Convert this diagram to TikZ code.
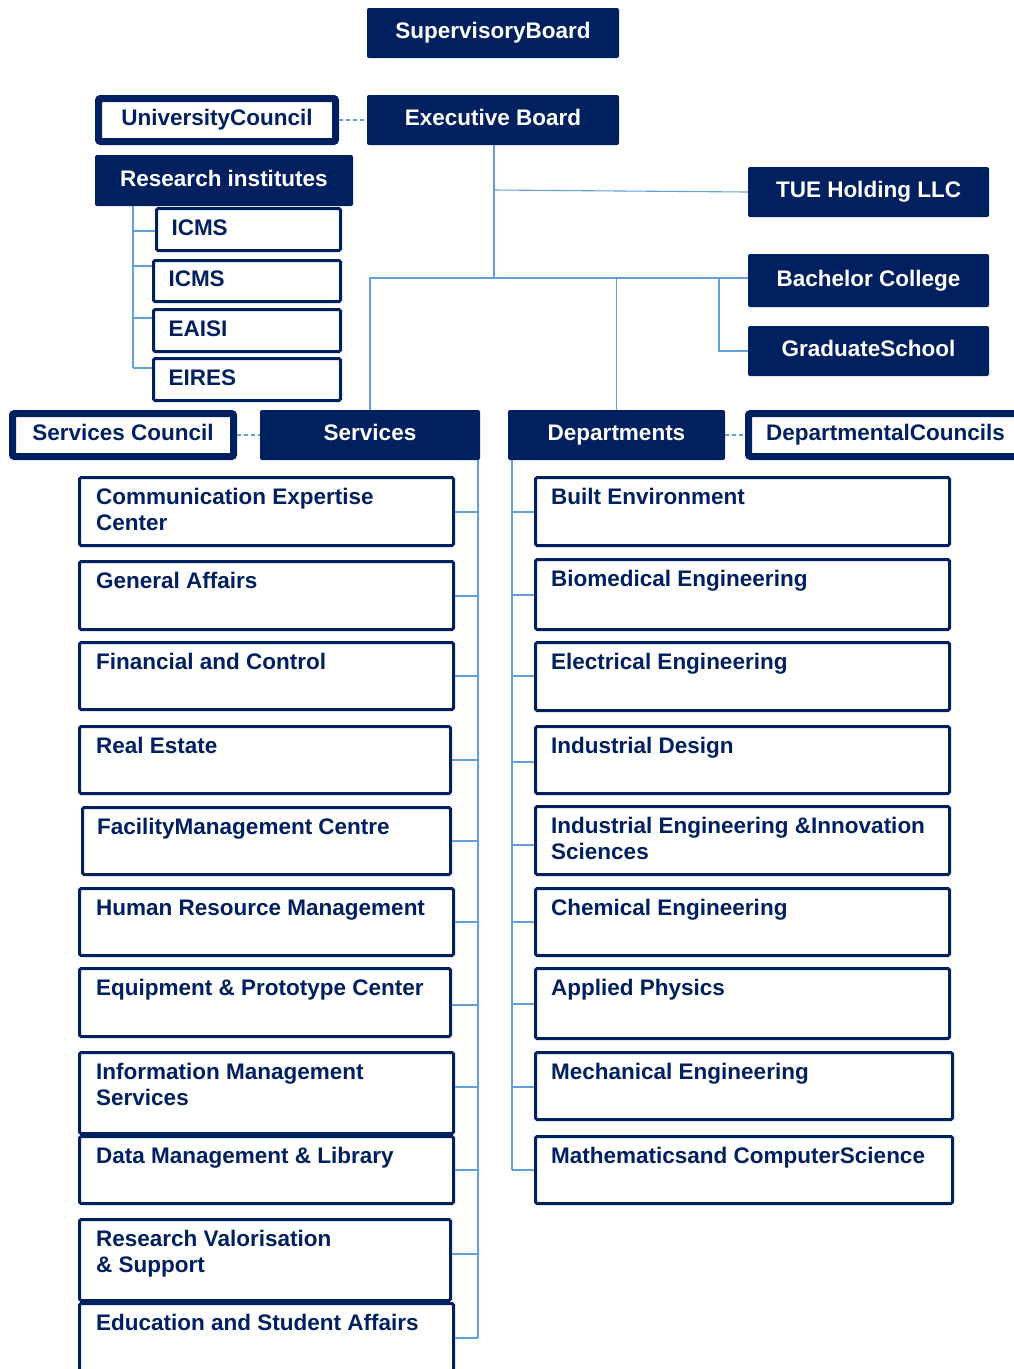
\documentclass[tikz,border=0pt]{standalone}
\usepackage{fontspec}
\setmainfont{Liberation Sans}
\definecolor{navy}{RGB}{0,32,96}
\definecolor{lnk}{RGB}{98,160,218}
\tikzset{
  every node/.style={font=\fontsize{22.5}{26}\selectfont\bfseries},
  solidbox/.style={fill=navy, draw=none, rounded corners=2pt, text=white, outer sep=0pt,
    anchor=north west, text height=16pt, text depth=5pt, inner sep=0pt},
  thickbox/.style={fill=white, draw=navy, line width=7pt, rounded corners=2pt, text=navy,
    anchor=north west, text height=16pt, text depth=5pt, inner sep=0pt},
  ribox/.style={fill=white, draw=navy, line width=3pt, rounded corners=1.5pt, text=navy,
    anchor=north west, text height=16pt, text depth=5pt, inner ysep=0pt, inner xsep=15pt, align=left},
  kidbox/.style={fill=white, draw=navy, line width=3pt, rounded corners=1.5pt, anchor=north west, inner sep=0pt},
  kidtext/.style={text=navy, anchor=base west, inner sep=0pt},
  link/.style={draw=lnk, line width=1.1pt},
  dlink/.style={link, dash pattern=on 4pt off 3pt},
}
\newcommand{\kid}[7]{%
  \node[kidbox, minimum width={#4-#2-3}, minimum height={#5-#3-3}] (#1) at (#2,#3) {};
  \node[kidtext] (#1-t) at (#2+#6,#3+28.5) {\parbox[t]{380pt}{\raggedright #7}};
}
\begin{document}
\begin{tikzpicture}[x=1pt,y=-1pt]
\useasboundingbox (0,0) rectangle (1014,1369);
\clip (0,0) rectangle (1014,1369);

% top boxes
\node[solidbox, minimum width=252pt, minimum height=50pt] (sb) at (367,8) {SupervisoryBoard};
\node[solidbox, minimum width=252pt, minimum height=50pt] (eb) at (367,95) {Executive Board};
\node[thickbox, minimum width=237pt, minimum height=43pt] (uc) at (95,95) {UniversityCouncil};
\node[solidbox, minimum width=258pt, minimum height=51pt] (ri) at (95,155) {Research institutes};
\node[solidbox, minimum width=241pt, minimum height=50pt] (tue) at (748,167) {TUE Holding LLC};
\node[solidbox, minimum width=241pt, minimum height=53pt] (bc) at (748,254) {Bachelor College};
\node[solidbox, minimum width=241pt, minimum height=50pt] (gs) at (748,326) {GraduateSchool};

% research institutes
\node[ribox, minimum width=184pt, minimum height=42pt, text width=154pt] (icmsa) at (155,207) {ICMS};
\node[ribox, minimum width=187pt, minimum height=41pt, text width=157pt] (icmsb) at (152,259) {ICMS};
\node[ribox, minimum width=187pt, minimum height=42pt, text width=157pt] (eaisi) at (152,308) {EAISI};
\node[ribox, minimum width=187pt, minimum height=42pt, text width=157pt] (eires) at (152,357) {EIRES};

% second level
\node[thickbox, minimum width=221pt, minimum height=43pt] (sc) at (9,410) {Services Council};
\node[solidbox, minimum width=220pt, minimum height=50pt] (svc) at (260,410) {Services};
\node[solidbox, minimum width=217pt, minimum height=50pt] (dep) at (508,410) {Departments};
\node[thickbox, minimum width=278pt, minimum height=43pt, inner xsep=17.5pt, text width=243pt, align=left] (dc) at (745,410) {DepartmentalCouncils};

% services
\kid{comm}{78}{476}{455}{547}{18}{Communication Expertise\\Center}
\kid{ga}{78}{560}{455}{631}{18}{General Affairs}
\kid{fc}{78}{641}{455}{711}{18}{Financial and Control}
\kid{re}{78}{725}{452}{795}{18}{Real Estate}
\kid{fm}{81}{806}{452}{876}{16}{FacilityManagement Centre}
\kid{hr}{78}{887}{455}{957}{18}{Human Resource Management}
\kid{ep}{78}{967}{452}{1038}{18}{Equipment \& Prototype Center}
\kid{im}{78}{1051}{455}{1135}{18}{Information Management\\Services}
\kid{dm}{78}{1135}{455}{1205}{18}{Data Management \& Library}
\kid{rv}{78}{1218}{452}{1302}{18}{Research Valorisation\\\& Support}
\kid{es}{78}{1302}{455}{1400}{18}{Education and Student Affairs}

% departments
\kid{be}{534}{476}{951}{547}{17}{Built Environment}
\kid{bm}{534}{558}{951}{631}{17}{Biomedical Engineering}
\kid{ee}{534}{641}{951}{712}{17}{Electrical Engineering}
\kid{id}{534}{725}{951}{795}{17}{Industrial Design}
\kid{ie}{534}{805}{951}{876}{17}{Industrial Engineering \&Innovation\\Sciences}
\kid{ce}{534}{887}{951}{957}{17}{Chemical Engineering}
\kid{ap}{534}{967}{951}{1040}{17}{Applied Physics}
\kid{me}{534}{1051}{954}{1121}{17}{Mechanical Engineering}
\kid{mc}{534}{1135}{954}{1205}{17}{Mathematicsand ComputerScience}

% connectors: top
\coordinate (hub) at (494,278);
\coordinate (gbr) at (719,278);
\draw[link] (eb.south -| hub) -- (hub);
\draw[link] (hub |- 0,190) -- (tue.west);
\draw[link] (svc.north) -- (svc.north |- hub) -- (bc.west |- hub);
\draw[link] (gbr) |- (gs.west);
\draw[link] (dep.north) -- (dep.north |- hub);

% dashed council links
\draw[dlink] (uc.east) -- (eb.west);
\draw[dlink] (sc.east) -- (svc.west);
\draw[dlink] (dep.east) -- (dc.west);

% research institutes tree
\coordinate (ri-end) at (133,368);
\draw[link] (ri.south -| ri-end) -- (ri-end);
\foreach \n/\y in {icmsa/231, icmsb/266, eaisi/318, eires/368}
  \draw[link] (ri-end |- 0,\y) -- (\n.west |- 0,\y);

% services tree
\coordinate (sv-end) at (478,1338);
\draw[link] (svc.south -| sv-end) -- (sv-end);
\foreach \n/\y in {comm/512, ga/596, fc/676, re/760, fm/841, hr/922, ep/1005, im/1087, dm/1170, rv/1254, es/1338}
  \draw[link] (\n.east |- 0,\y) -- (sv-end |- 0,\y);

% departments tree
\coordinate (dp-end) at (512,1170);
\draw[link] (dep.south -| dp-end) -- (dp-end);
\foreach \n/\y in {be/512, bm/595, ee/676, id/762, ie/845, ce/922, ap/1004, me/1087, mc/1170}
  \draw[link] (dp-end |- 0,\y) -- (\n.west |- 0,\y);
\end{tikzpicture}
\end{document}
